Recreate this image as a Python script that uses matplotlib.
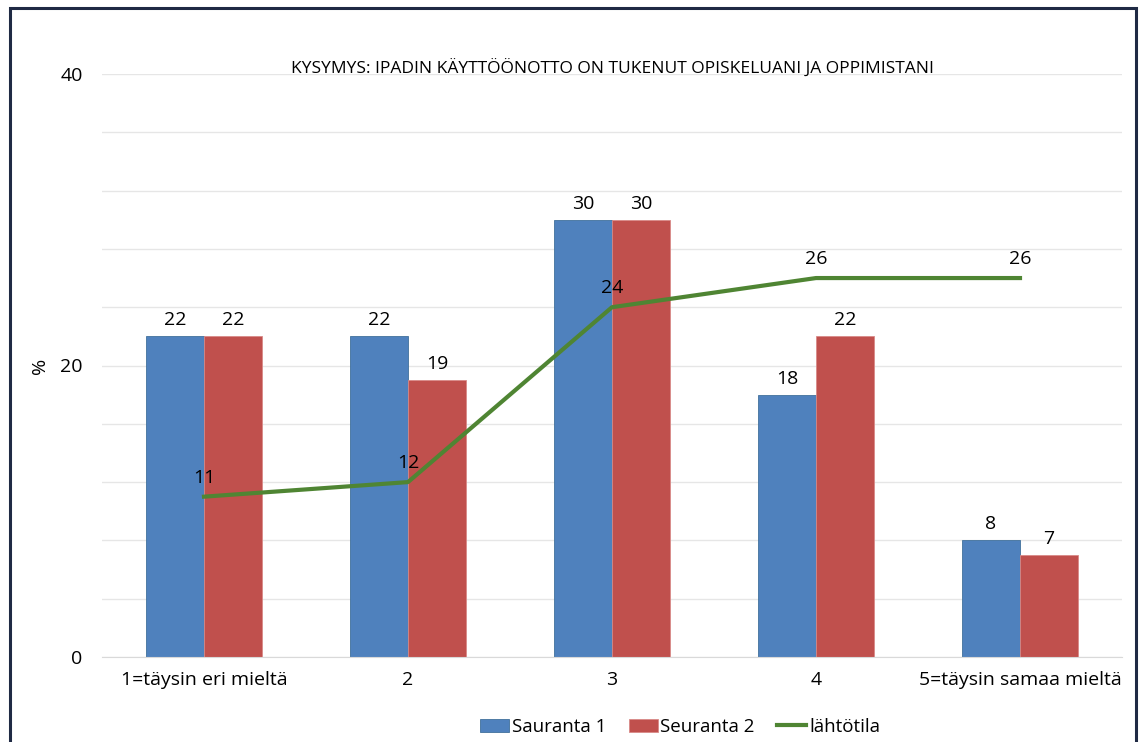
import numpy as np
import matplotlib.pyplot as plt
from matplotlib.patches import Rectangle

plt.rcParams['font.family'] = ['Open Sans', 'DejaVu Sans']

categories = ['1=täysin eri mieltä', '2', '3', '4', '5=täysin samaa mieltä']
sauranta1 = [22, 22, 30, 18, 8]
seuranta2 = [22, 19, 30, 22, 7]
lahtotila = [11, 12, 24, 26, 26]

blue = '#4F81BD'
red = '#C0504D'
green = '#4F8533'
fs = 14

fig = plt.figure(figsize=(11.39, 7.42), dpi=100)
ax = fig.add_axes([102 / 1139, 1 - 657 / 742, 1020 / 1139, 583 / 742])

x = np.arange(len(categories))
w = 0.284
b1 = ax.bar(x - w / 2, sauranta1, w, color=blue, edgecolor='#41719C',
            linewidth=0.6, label='Sauranta 1', zorder=2)
b2 = ax.bar(x + w / 2, seuranta2, w, color=red, edgecolor='#D98A88',
            linewidth=0.6, label='Seuranta 2', zorder=2)
ln, = ax.plot(x, lahtotila, color=green, linewidth=3, label='lähtötila', zorder=3)

for xi, v in zip(x - w / 2, sauranta1):
    ax.annotate(str(v), (xi, v), xytext=(0, 5), textcoords='offset points',
                ha='center', va='bottom', fontsize=fs, zorder=4)
for xi, v in zip(x + w / 2, seuranta2):
    ax.annotate(str(v), (xi, v), xytext=(0, 5), textcoords='offset points',
                ha='center', va='bottom', fontsize=fs, zorder=4)
for xi, v in zip(x, lahtotila):
    ax.annotate(str(v), (xi, v), xytext=(0, 7), textcoords='offset points',
                ha='center', va='bottom', fontsize=fs, zorder=4)

ax.set_xlim(-0.5, len(categories) - 0.5)
ax.set_ylim(0, 40)
ax.set_yticks([0, 20, 40])
ax.set_yticks(np.arange(0, 41, 4), minor=True)
ax.grid(True, which='both', axis='y', color='#E6E6E6', linewidth=1, zorder=0)
ax.set_xticks(x)
ax.set_xticklabels(categories, fontsize=fs)
ax.tick_params(axis='y', which='both', length=0, labelsize=fs, pad=14)
ax.tick_params(axis='x', length=0, labelsize=fs, pad=10)
for s in ['top', 'right', 'left']:
    ax.spines[s].set_visible(False)
ax.spines['bottom'].set_color('#D9D9D9')
ax.set_ylabel('%', fontsize=fs, labelpad=8)

ax.text(0.5, 40.0, 'KYSYMYS: IPADIN KÄYTTÖÖNOTTO ON TUKENUT OPISKELUANI JA OPPIMISTANI',
        transform=ax.get_yaxis_transform(), ha='center', va='baseline',
        fontsize=12.5, zorder=4)

fig.legend(handles=[b1, b2, ln], loc='center',
           bbox_to_anchor=(680 / 1139, 1 - 727 / 742), ncol=3,
           frameon=False, fontsize=13.5, handlelength=1.55, handleheight=0.75,
           columnspacing=1.2, handletextpad=0.15)

# outer frame
fig.add_artist(Rectangle((10 / 1139, -0.02), 1126 / 1139, 1 - 8 / 742 + 0.02,
                         transform=fig.transFigure, fill=False,
                         edgecolor='#1F2A44', linewidth=2.2))

fig.savefig('out.png', dpi=100)
